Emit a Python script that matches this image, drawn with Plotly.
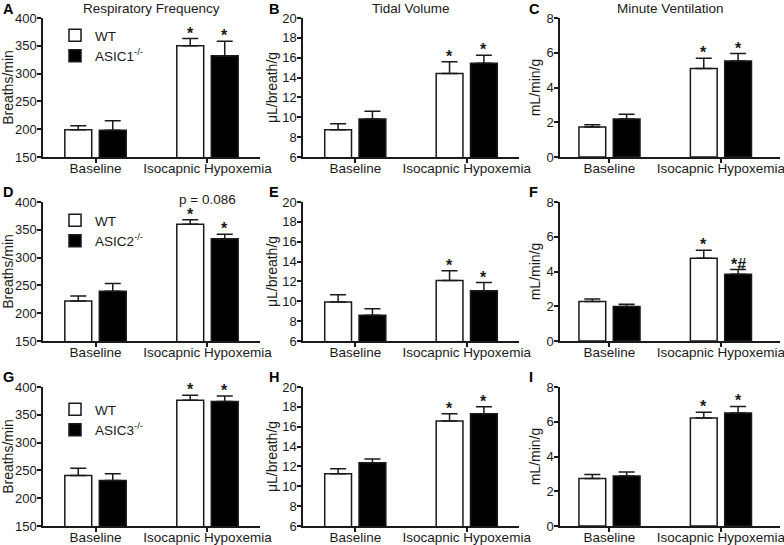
import plotly.graph_objects as go

groups = ["Baseline", "Isocapnic Hypoxemia"]
col_titles = ["Respiratory Frequency", "Tidal Volume", "Minute Ventilation"]
units = ["Breaths/min", "μL/breath/g", "mL/min/g"]
knockouts = ["ASIC1", "ASIC2", "ASIC3"]
letters = ["A", "B", "C", "D", "E", "F", "G", "H", "I"]

# row 1 - ASIC1
wt_A = [199, 350];     wt_A_err = [7, 13];      ko_A = [198, 332];     ko_A_err = [17, 26]
wt_B = [8.75, 14.4];   wt_B_err = [0.6, 1.2];   ko_B = [9.83, 15.45];  ko_B_err = [0.77, 0.8]
wt_C = [1.73, 5.1];    wt_C_err = [0.13, 0.58]; ko_C = [2.19, 5.53];   ko_C_err = [0.27, 0.42]
# row 2 - ASIC2
wt_D = [222, 360];     wt_D_err = [9, 8];       ko_D = [239.5, 334];   ko_D_err = [14, 8]
wt_E = [9.93, 12.1];   wt_E_err = [0.74, 0.97]; ko_E = [8.6, 11.05];   ko_E_err = [0.64, 0.84]
wt_F = [2.27, 4.76];   wt_F_err = [0.15, 0.46]; ko_F = [1.98, 3.84];   ko_F_err = [0.13, 0.27]
# row 3 - ASIC3
wt_G = [241, 376];     wt_G_err = [13, 9];      ko_G = [232, 374];     ko_G_err = [12, 10]
wt_H = [11.27, 16.57]; wt_H_err = [0.5, 0.74];  ko_H = [12.38, 17.3];  ko_H_err = [0.37, 0.7]
wt_I = [2.73, 6.22];   wt_I_err = [0.23, 0.33]; ko_I = [2.88, 6.5];    ko_I_err = [0.23, 0.38]

# significance marks
marks_wt = [["", "*"]] * 9
marks_ko = [["", "*"]] * 9
marks_ko = marks_ko[:5] + [["", "*#"]] + marks_ko[6:]

panels = [
    (wt_A, wt_A_err, ko_A, ko_A_err), (wt_B, wt_B_err, ko_B, ko_B_err), (wt_C, wt_C_err, ko_C, ko_C_err),
    (wt_D, wt_D_err, ko_D, ko_D_err), (wt_E, wt_E_err, ko_E, ko_E_err), (wt_F, wt_F_err, ko_F, ko_F_err),
    (wt_G, wt_G_err, ko_G, ko_G_err), (wt_H, wt_H_err, ko_H, ko_H_err), (wt_I, wt_I_err, ko_I, ko_I_err),
]

yranges = [[150, 400], [6, 20], [0, 8]]
ydticks = [50, 2, 2]
xranges = [[-0.469, 1.469], [-0.469, 1.469], [-0.444, 1.53]]
standoffs = [1, 1, 3]

W, H = 784, 545
xdom = [(43, 260), (303, 519), (560, 780)]
ydom = [(18, 157), (202, 341), (387, 526)]

FONT = "Arial, Liberation Sans, sans-serif"
INK = "#1a1a1a"
BAR_SHIFT = 0.154  # half of a bar slot, in category units

fig = go.Figure()
annotations = []
layout = {}

for i, (wt, wt_err, ko, ko_err) in enumerate(panels):
    r, c = divmod(i, 3)
    n = "" if i == 0 else str(i + 1)
    xa, ya = "x" + n, "y" + n
    leg = None
    if c == 0:
        leg = "legend" if r == 0 else "legend" + str(r + 1)
    for k, (name, vals, errs, fill, marks) in enumerate([
        ("WT", wt, wt_err, "white", marks_wt[i]),
        (knockouts[r] + "<sup>-/-</sup>", ko, ko_err, "black", marks_ko[i]),
    ]):
        fig.add_trace(go.Bar(
            x=groups, y=vals, name=name, xaxis=xa, yaxis=ya,
            marker=dict(color=fill, line=dict(color=INK, width=1.5)),
            error_y=dict(type="data", array=errs, arrayminus=[0] * len(errs), symmetric=False,
                         thickness=1.5, width=8, color=INK),
            showlegend=leg is not None, legend=leg or "legend",
            offsetgroup=str(k),
        ))
        for gi, (v, e, m) in enumerate(zip(vals, errs, marks)):
            if m:
                annotations.append(dict(x=gi + (2 * k - 1) * BAR_SHIFT, y=v + e, xref=xa, yref=ya,
                                        text="<b>" + m + "</b>",
                                        showarrow=False, yanchor="bottom", yshift=-5,
                                        font=dict(size=16, color=INK)))
    (x0, x1), (y0, y1) = xdom[c], ydom[r]
    axis_common = dict(showline=True, linecolor=INK, linewidth=1.5, ticks="outside",
                       tickcolor=INK, tickwidth=1.5, showgrid=False, zeroline=False,
                       automargin=False)
    layout["xaxis" + n] = dict(domain=[x0 / W, x1 / W], anchor=ya, range=xranges[c],
                               type="category", ticklen=4, ticklabelstandoff=-6,
                               tickfont=dict(size=13.5, color=INK, family=FONT), **axis_common)
    layout["yaxis" + n] = dict(domain=[1 - y1 / H, 1 - y0 / H], anchor=xa, range=yranges[c],
                               dtick=ydticks[c], tick0=0, ticklen=4, ticklabelstandoff=-2,
                               tickfont=dict(size=13, color=INK, family=FONT),
                               title=dict(text=units[c], standoff=standoffs[c],
                                          font=dict(size=14, color=INK, family=FONT)),
                               **axis_common)
    # panel letter
    lx = [1, 267, 527][c]
    ly = [9, 192, 377][r]
    annotations.append(dict(x=lx / W, y=1 - ly / H, xref="paper", yref="paper",
                            text="<b>" + letters[i] + "</b>",
                            showarrow=False, xanchor="left", yanchor="middle",
                            font=dict(size=14.5, color="black", family=FONT)))

for c, t in enumerate(col_titles):
    annotations.append(dict(x=(xdom[c][0] + xdom[c][1]) / 2 / W, y=1 - 9 / H, xref="paper", yref="paper",
                            text=t, showarrow=False, xanchor="center", yanchor="middle",
                            font=dict(size=13.5, color=INK, family=FONT)))

# p value above the ASIC2 hypoxemia pair
annotations.append(dict(x=groups[1], y=yranges[0][1], xref="x4", yref="y4", text="p = 0.086",
                        showarrow=False, xanchor="center", yanchor="middle", yshift=3,
                        font=dict(size=13.5, color=INK, family=FONT)))

legend_common = dict(bgcolor="rgba(0,0,0,0)", font=dict(size=13.5, color=INK, family=FONT),
                     xanchor="left", yanchor="top", tracegroupgap=0, itemwidth=30)
layout["legend"] = dict(x=55 / W, y=1 - 20 / H, **legend_common)
layout["legend2"] = dict(x=55 / W, y=1 - 205 / H, **legend_common)
layout["legend3"] = dict(x=55 / W, y=1 - 394 / H, **legend_common)

fig.update_layout(
    width=W, height=H, margin=dict(l=0, r=0, t=0, b=0),
    paper_bgcolor="white", plot_bgcolor="white",
    font=dict(family=FONT, color=INK),
    barmode="group", bargap=0.384, bargroupgap=0.22,
    annotations=annotations, **layout,
)

# drop the browser's default body margin so the figure fills the window exactly
fig.write_html("out.html", config={"displayModeBar": False},
               post_script="document.body.style.margin = '0';")
